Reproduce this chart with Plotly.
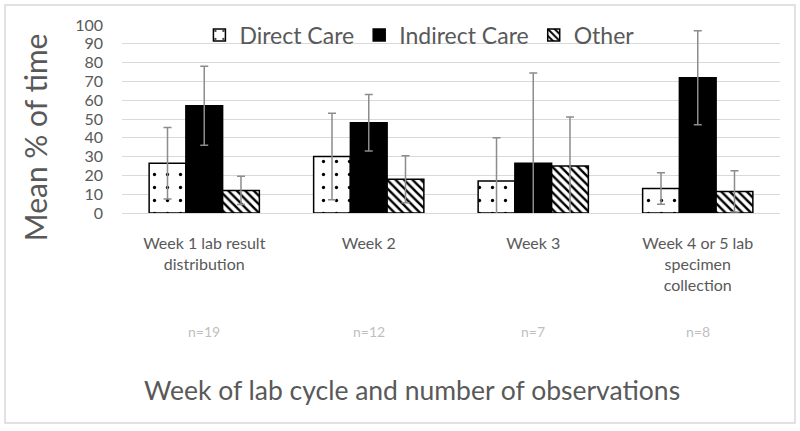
import plotly.graph_objects as go

categories = ["Week 1 lab result<br>distribution", "Week 2", "Week 3", "Week 4 or 5 lab<br>specimen<br>collection"]
n_labels = ["n=19", "n=12", "n=7", "n=8"]

direct = [26.5, 30, 17, 13]
direct_err = [19, 23, 23, 8.4]
indirect = [57, 48, 26.5, 72]
indirect_err = [21, 15, 48, 25]
other = [12, 18, 25, 11.5]
other_err = [7.5, 12.5, 26, 11]

FONT = "Lato"
GRAY = "#595959"

def err(v):
    return dict(type="data", array=v, visible=True, color="#8c8c8c", thickness=1.5, width=4)

fig = go.Figure()
fig.add_trace(go.Bar(
    name="Direct Care", x=categories, y=direct, error_y=err(direct_err),
    marker=dict(color="white", line=dict(color="black", width=1.5),
                pattern=dict(shape=".", fgcolor="black", bgcolor="white", fgopacity=1,
                             size=13, solidity=0.05)),
))
fig.add_trace(go.Bar(
    name="Indirect Care", x=categories, y=indirect, error_y=err(indirect_err),
    marker=dict(color="black", line=dict(color="black", width=1.5)),
))
fig.add_trace(go.Bar(
    name="Other", x=categories, y=other, error_y=err(other_err),
    marker=dict(color="white", line=dict(color="black", width=1.5),
                pattern=dict(shape="\\", fgcolor="black", bgcolor="white", fgopacity=1,
                             size=6, solidity=0.4)),
))

annotations = []
for c, n in zip(categories, n_labels):
    annotations.append(dict(x=c, y=-118/188, xref="x", yref="paper", yanchor="middle",
                            text=n, showarrow=False,
                            font=dict(family=FONT, size=14, color="#bfbfbf")))
annotations.append(dict(x=0.44, y=-177/188, xref="paper", yref="paper", yanchor="middle",
                        xanchor="center",
                        text="Week of lab cycle and number of observations", showarrow=False,
                        font=dict(family=FONT, size=26.5, color=GRAY)))
annotations.append(dict(x=-0.132, y=0.404, xref="paper", yref="paper", textangle=-90,
                        xanchor="center", yanchor="middle",
                        text="Mean % of time", showarrow=False,
                        font=dict(family=FONT, size=30, color=GRAY)))

fig.update_layout(
    width=800, height=431,
    margin=dict(l=122, r=20, t=25, b=218),
    paper_bgcolor="white", plot_bgcolor="white",
    barmode="group", bargap=0.33, bargroupgap=0,
    font=dict(family=FONT, color=GRAY),
    showlegend=True,
    legend=dict(orientation="h", x=0.452, xanchor="center", y=0.947, yanchor="middle",
                font=dict(family=FONT, size=23, color=GRAY), bgcolor="rgba(255,255,255,0)",
                itemwidth=30),
    xaxis=dict(showgrid=False, showline=True, linecolor="#d9d9d9", linewidth=1,
               tickfont=dict(family=FONT, size=16, color=GRAY), ticks="", ticklabelstandoff=16),
    yaxis=dict(range=[0, 100], dtick=10, showgrid=True, gridcolor="#d9d9d9", gridwidth=1,
               zeroline=False, showline=False, ticks="",
               tickfont=dict(family=FONT, size=16, color=GRAY), ticklabelstandoff=18),
    annotations=annotations,
    shapes=[dict(type="rect", xref="paper", yref="paper",
                 x0=-117/658, x1=(795-122)/658, y0=-(423-213)/188, y1=(213-5)/188,
                 line=dict(color="#d9d9d9", width=1.5), fillcolor="rgba(0,0,0,0)", layer="below")],
)

fig.write_html("out.html", config={"displayModeBar": False},
               post_script="document.body.style.margin='0';")
